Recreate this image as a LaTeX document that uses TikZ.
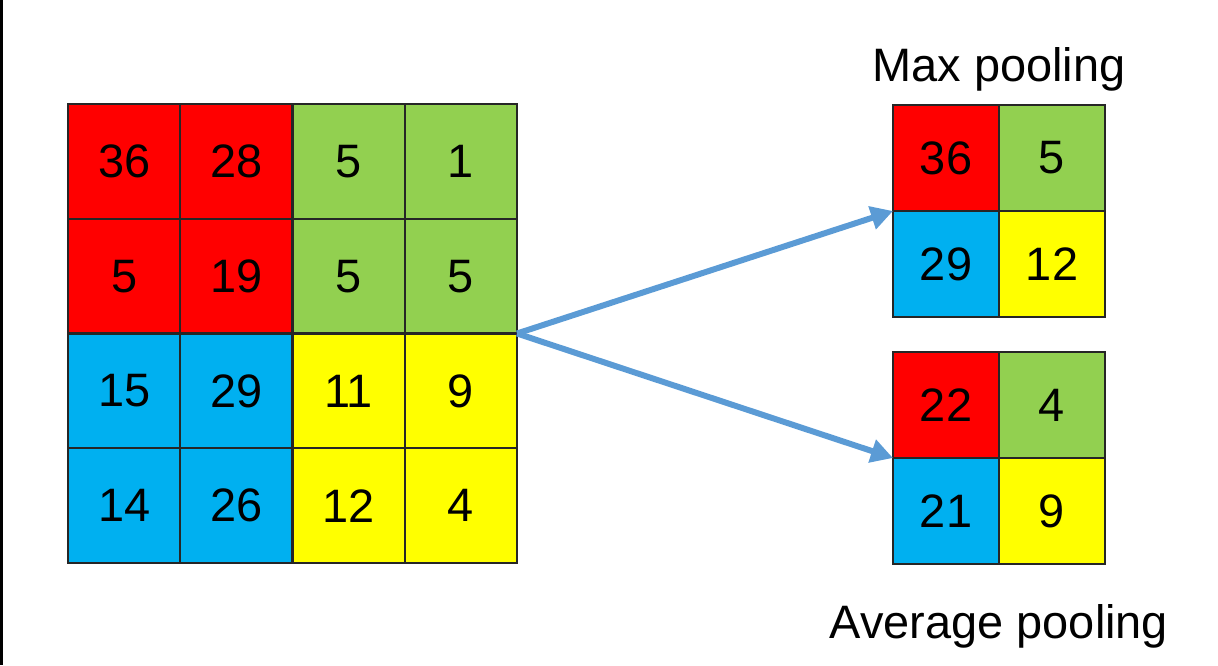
\documentclass[tikz,border=0pt]{standalone}
\usepackage{fontspec}
\setmainfont{Liberation Sans}
\usetikzlibrary{positioning}
\usetikzlibrary{arrows.meta}
\definecolor{cellred}{RGB}{255,0,0}
\definecolor{cellgreen}{RGB}{146,208,80}
\definecolor{cellblue}{RGB}{0,176,240}
\definecolor{cellyellow}{RGB}{255,255,0}
\definecolor{flowblue}{RGB}{91,155,213}

\begin{document}
\begin{tikzpicture}[
  cell/.style={draw=black!85, line width=1.2pt, minimum width=2.245cm, minimum height=2.295cm,
               inner sep=0pt, outer sep=0pt, font=\fontsize{26.7}{32}\selectfont},
  small/.style={cell, minimum width=2.12cm, minimum height=2.12cm},
  title/.style={inner sep=0pt, font=\fontsize{26.7}{32}\selectfont},
  flow/.style={flowblue, line width=3.4pt, -{Triangle[length=0.44cm,width=0.46cm]}}
]
 \useasboundingbox (0,0) rectangle (24.36,13.3);
 \fill[black] (0,0) rectangle (0.06,13.3);

 % input map
 \node[cell, fill=cellred,                        name=in11] at (2.4825,10.0725) {36};
 \node[cell, fill=cellred,    right=0pt of in11,  name=in12] {28};
 \node[cell, fill=cellgreen,  right=0pt of in12,  name=in13] {5};
 \node[cell, fill=cellgreen,  right=0pt of in13,  name=in14] {1};
 \node[cell, fill=cellred,    below=0pt of in11,  name=in21] {5};
 \node[cell, fill=cellred,    right=0pt of in21,  name=in22] {19};
 \node[cell, fill=cellgreen,  right=0pt of in22,  name=in23] {5};
 \node[cell, fill=cellgreen,  right=0pt of in23,  name=in24] {5};
 \node[cell, fill=cellblue,   below=0pt of in21,  name=in31] {15};
 \node[cell, fill=cellblue,   right=0pt of in31,  name=in32] {29};
 \node[cell, fill=cellyellow, right=0pt of in32,  name=in33] {11};
 \node[cell, fill=cellyellow, right=0pt of in33,  name=in34] {9};
 \node[cell, fill=cellblue,   below=0pt of in31,  name=in41] {14};
 \node[cell, fill=cellblue,   right=0pt of in41,  name=in42] {26};
 \node[cell, fill=cellyellow, right=0pt of in42,  name=in43] {12};
 \node[cell, fill=cellyellow, right=0pt of in43,  name=in44] {4};

 % max pooling
 \node[small, fill=cellred,                        name=max11] at (18.92,10.14) {36};
 \node[small, fill=cellgreen,  right=0pt of max11, name=max12] {5};
 \node[small, fill=cellblue,   below=0pt of max11, name=max21] {29};
 \node[small, fill=cellyellow, right=0pt of max21, name=max22] {12};

 % average pooling
 \node[small, fill=cellred,                        name=avg11] at (18.92,5.2) {22};
 \node[small, fill=cellgreen,  right=0pt of avg11, name=avg12] {4};
 \node[small, fill=cellblue,   below=0pt of avg11, name=avg21] {21};
 \node[small, fill=cellyellow, right=0pt of avg21, name=avg22] {9};

 \node[title, above=0.26cm of max11.north east, name=maxtitle] {Max pooling};
 \node[title, below=0.8cm of avg21.south east,  name=avgtitle] {Average pooling};

 \draw[flow] (in24.south east) -- (max11.south west);
 \draw[flow] (in24.south east) -- (avg11.south west);
\end{tikzpicture}
\end{document}
